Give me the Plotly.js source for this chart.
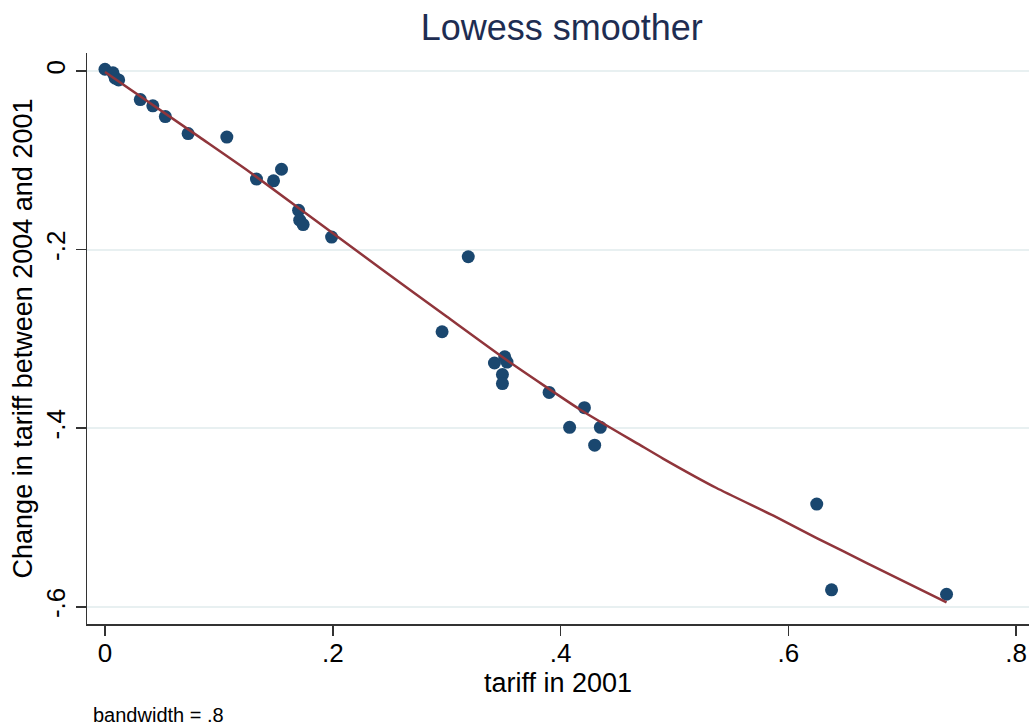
<!DOCTYPE html>
<html>
<head>
<meta charset="utf-8">
<script src="https://cdn.plot.ly/plotly-3.0.1.min.js"></script>
<style>html,body{margin:0;padding:0;background:#fff;}#chart{width:1029px;height:727px;}</style>
</head>
<body>
<div id="chart"></div>
<script>
// Observed data: tariff in 2001 vs change in tariff 2004-2001
var tariff2001 = [0.000, 0.007, 0.009, 0.012, 0.031, 0.042, 0.053, 0.073, 0.107, 0.133, 0.148, 0.155, 0.170, 0.171, 0.174, 0.199, 0.296, 0.319, 0.342, 0.349, 0.349, 0.351, 0.353, 0.390, 0.408, 0.421, 0.430, 0.435, 0.625, 0.638, 0.739];
var tariffChange = [0.002, -0.002, -0.008, -0.010, -0.032, -0.039, -0.051, -0.070, -0.074, -0.121, -0.123, -0.110, -0.156, -0.167, -0.172, -0.186, -0.292, -0.208, -0.327, -0.340, -0.350, -0.320, -0.326, -0.360, -0.399, -0.377, -0.419, -0.399, -0.485, -0.581, -0.586];

// Lowess fitted curve (bandwidth .8)
var lowessX = [0.000, 0.083, 0.127, 0.243, 0.300, 0.353, 0.417, 0.470, 0.490, 0.537, 0.587, 0.625, 0.669, 0.739];
var lowessY = [-0.001, -0.074, -0.113, -0.222, -0.275, -0.324, -0.379, -0.419, -0.434, -0.467, -0.498, -0.523, -0.551, -0.595];

var xTickVals = [0, 0.2, 0.4, 0.6, 0.8];
var xTickText = ['0', '.2', '.4', '.6', '.8'];
var yTickVals = [0, -0.2, -0.4, -0.6];
var yTickText = ['0', '-.2', '-.4', '-.6'];

var FONT = 'Liberation Sans, Arial, Helvetica, sans-serif';

var traces = [
  {
    x: tariff2001, y: tariffChange, type: 'scatter', mode: 'markers',
    marker: {color: '#1a476f', size: 13, line: {width: 0}},
    hoverinfo: 'x+y', showlegend: false
  },
  {
    x: lowessX, y: lowessY, type: 'scatter', mode: 'lines',
    line: {color: '#90353b', width: 2.5, shape: 'spline', smoothing: 0.5},
    showlegend: false
  }
];

var layout = {
  width: 1029, height: 727,
  paper_bgcolor: '#ffffff', plot_bgcolor: '#ffffff',
  margin: {l: 87, r: 0, t: 53, b: 103, pad: 0},
  font: {family: FONT, color: '#000000', size: 26},
  title: {
    text: 'Lowess smoother',
    font: {family: FONT, size: 36, color: '#1e2d52'},
    xref: 'paper', x: 0.504, xanchor: 'center',
    yref: 'container', y: 0.962, yanchor: 'middle'
  },
  xaxis: {
    range: [-0.0158, 0.8114],
    tickvals: xTickVals, ticktext: xTickText,
    ticks: 'outside', ticklen: 10, tickwidth: 1.5, tickcolor: '#333',
    ticklabelstandoff: -5,
    showline: true, linecolor: '#333', linewidth: 1.5,
    showgrid: false, zeroline: false,
    tickfont: {family: FONT, size: 26, color: '#000'},
    title: {text: 'tariff in 2001', font: {family: FONT, size: 27, color: '#000'}, standoff: 0}
  },
  yaxis: {
    range: [-0.6193, 0.0202],
    tickvals: yTickVals, ticktext: yTickText,
    tickangle: -90,
    ticks: 'outside', ticklen: 10, tickwidth: 1.5, tickcolor: '#333',
    showline: true, linecolor: '#333', linewidth: 1.5,
    showgrid: true, gridcolor: '#e8f0f1', gridwidth: 2,
    zeroline: false,
    tickfont: {family: FONT, size: 26, color: '#000'},
    title: {text: 'Change in tariff between 2004 and 2001', font: {family: FONT, size: 27, color: '#000'}, standoff: 0}
  },
  annotations: [
    {
      text: 'bandwidth = .8', showarrow: false,
      xref: 'paper', yref: 'paper', x: 0.0053, y: -0.1804,
      xanchor: 'left', yanchor: 'bottom', borderpad: 0,
      font: {family: FONT, size: 20, color: '#000'}
    }
  ]
};

Plotly.newPlot('chart', traces, layout, {displayModeBar: false, staticPlot: true});
</script>
</body>
</html>
